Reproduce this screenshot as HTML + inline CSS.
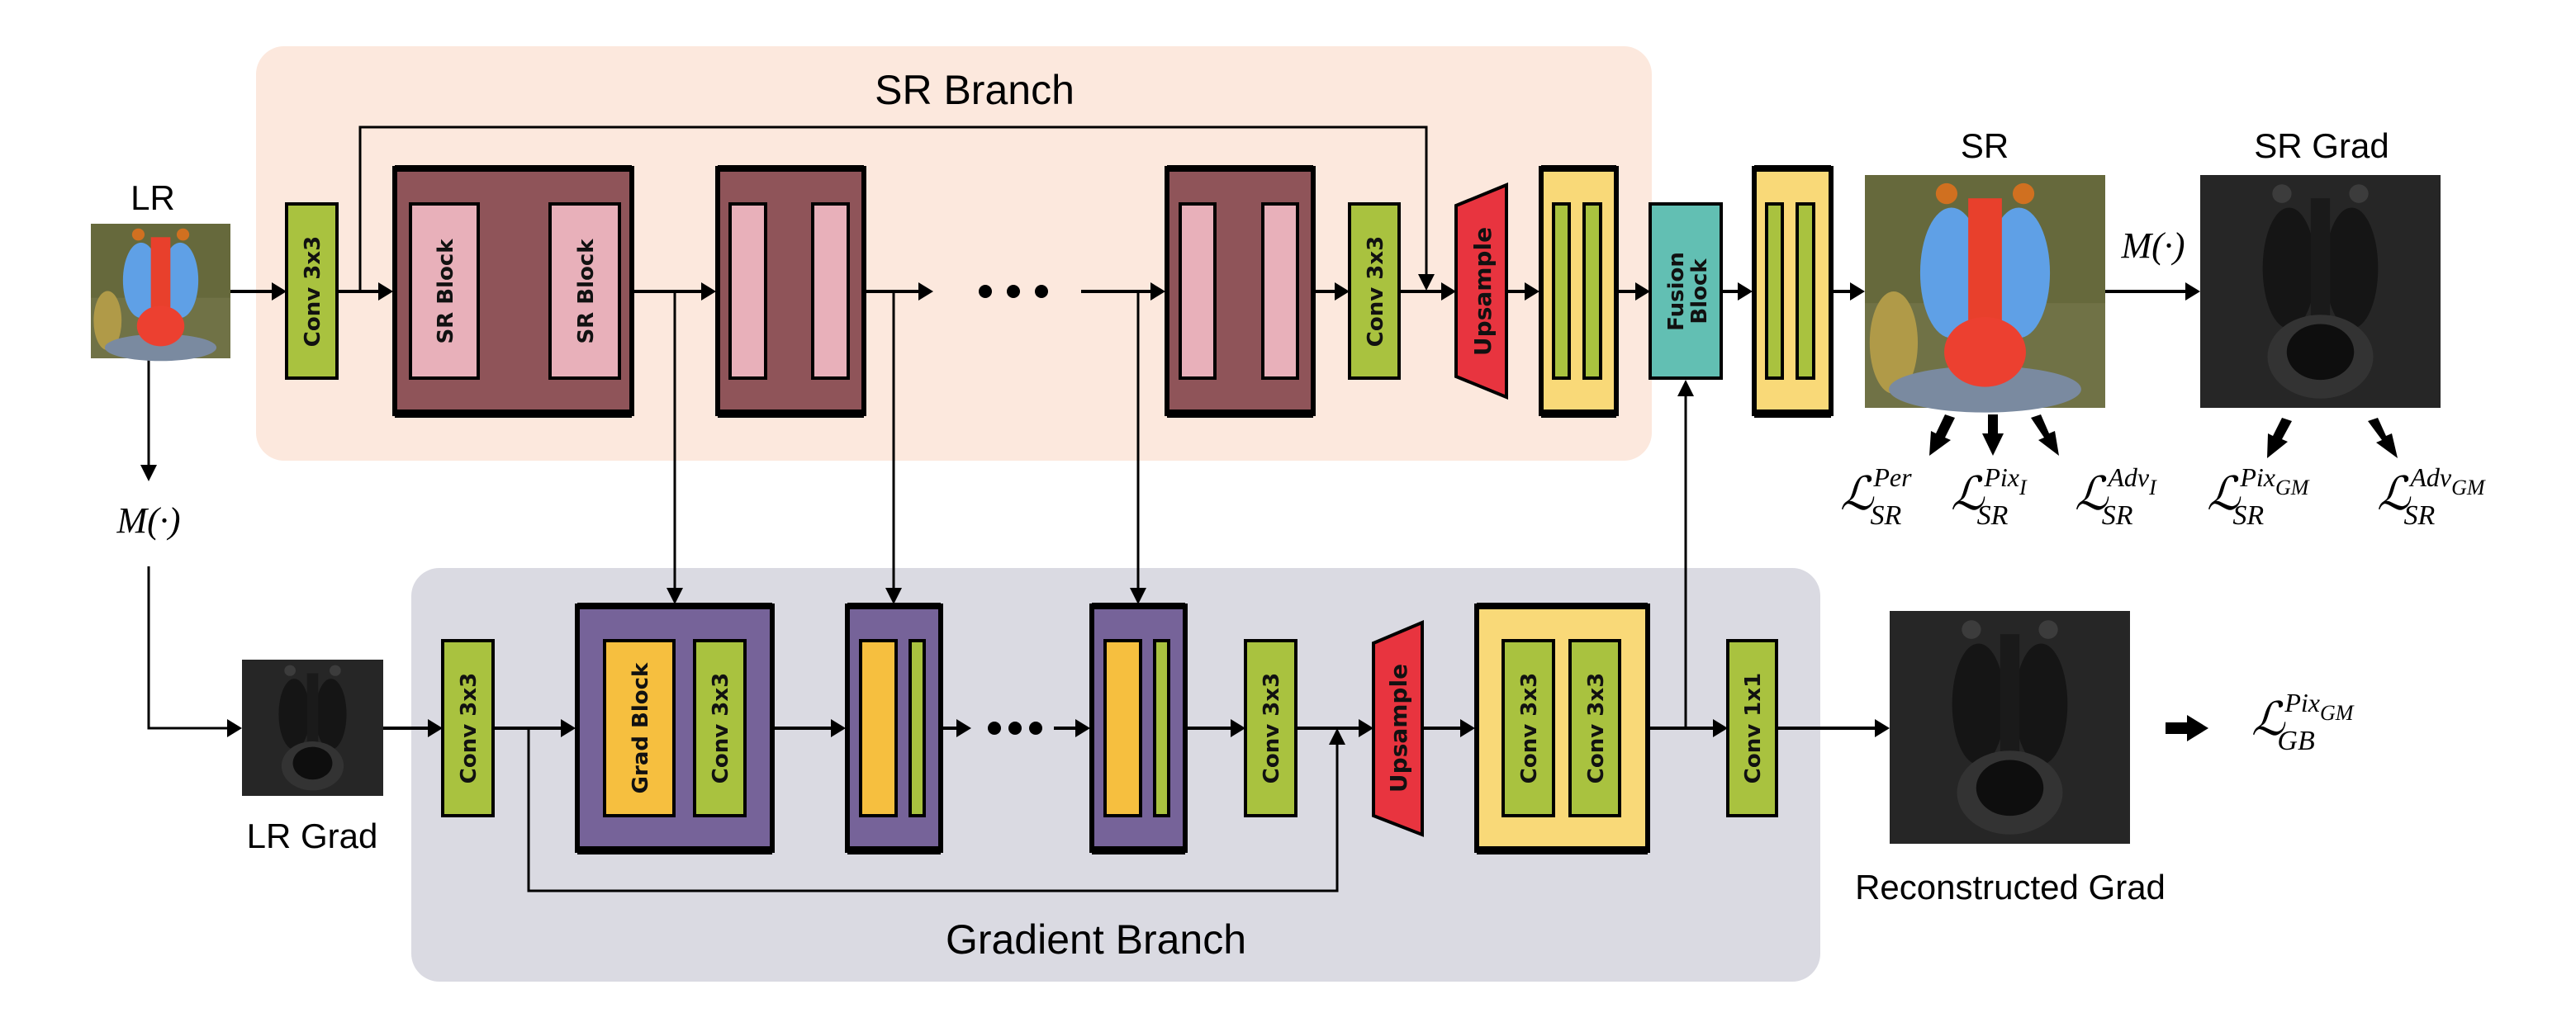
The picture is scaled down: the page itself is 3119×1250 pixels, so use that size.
<!DOCTYPE html>
<html><head><meta charset="utf-8"><style>
html,body{margin:0;padding:0;background:#fff}
svg{display:block}
.lbl{font-family:"Liberation Sans Narrow","Liberation Sans",sans-serif;fill:#000}
.blk{font-family:"DejaVu Sans",sans-serif;font-weight:bold;font-size:26px;fill:#111}
.m{font-family:"Liberation Serif",serif;font-style:italic;fill:#000}
</style></head><body>
<svg width="3119" height="1250" viewBox="0 0 3119 1250" xmlns="http://www.w3.org/2000/svg">
<defs>
<g id="bab">
<rect x="0" y="0" width="100" height="100" fill="#66693c"/>
<rect x="0" y="55" width="100" height="45" fill="#707246"/>
<ellipse cx="12" cy="72" rx="10" ry="22" fill="#b09a48"/>
<ellipse cx="50" cy="92" rx="40" ry="10" fill="#7a8aa0"/>
<ellipse cx="36" cy="42" rx="13" ry="28" fill="#5fa0e6"/>
<ellipse cx="64" cy="42" rx="13" ry="28" fill="#5fa0e6"/>
<rect x="43" y="10" width="14" height="55" fill="#e8402c"/>
<ellipse cx="50" cy="76" rx="17" ry="15" fill="#ec4030"/>
<circle cx="34" cy="8" r="4.5" fill="#d07020"/>
<circle cx="66" cy="8" r="4.5" fill="#d07020"/>
</g>
<g id="grad">
<rect x="0" y="0" width="100" height="100" fill="#262626"/>
<ellipse cx="37" cy="40" rx="11" ry="26" fill="#151515"/>
<ellipse cx="63" cy="40" rx="11" ry="26" fill="#151515"/>
<rect x="46" y="10" width="8" height="60" fill="#1a1a1a"/>
<ellipse cx="50" cy="78" rx="22" ry="18" fill="#333"/>
<ellipse cx="50" cy="76" rx="14" ry="12" fill="#0e0e0e"/>
<circle cx="34" cy="8" r="4" fill="#3c3c3c"/>
<circle cx="66" cy="8" r="4" fill="#3c3c3c"/>
</g>
</defs>

<rect x="310" y="56" width="1690" height="502" rx="34" fill="#fce8dd"/>
<rect x="498" y="688" width="1706" height="501" rx="34" fill="#dadae2"/>
<text x="1180" y="126" class="lbl" font-size="50" text-anchor="middle">SR Branch</text>
<text x="1327" y="1155" class="lbl" font-size="50" text-anchor="middle">Gradient Branch</text>

<g stroke="#000" fill="none" stroke-width="4">
<line x1="279" y1="353" x2="332" y2="353"/>
<line x1="408" y1="353" x2="460" y2="353"/>
<line x1="767" y1="353" x2="851" y2="353"/>
<line x1="1048" y1="353" x2="1114" y2="353"/>
<line x1="1309" y1="353" x2="1395" y2="353"/>
<line x1="1592" y1="353" x2="1618" y2="353"/>
<line x1="1694" y1="353" x2="1747" y2="353"/>
<line x1="1824" y1="353" x2="1848" y2="353"/>
<line x1="1959" y1="353" x2="1982" y2="353"/>
<line x1="2084" y1="353" x2="2106" y2="353"/>
<line x1="2219" y1="353" x2="2242" y2="353"/>
<line x1="2549" y1="353" x2="2648" y2="353"/>
<line x1="464" y1="882" x2="520" y2="882"/>
<line x1="597" y1="882" x2="681" y2="882"/>
<line x1="937" y1="882" x2="1008" y2="882"/>
<line x1="1141" y1="882" x2="1160" y2="882"/>
<line x1="1276" y1="882" x2="1304" y2="882"/>
<line x1="1437" y1="882" x2="1492" y2="882"/>
<line x1="1569" y1="882" x2="1647" y2="882"/>
<line x1="1722" y1="882" x2="1770" y2="882"/>
<line x1="1997" y1="882" x2="2076" y2="882"/>
<line x1="2151" y1="882" x2="2272" y2="882"/>
</g>
<g stroke="#000" fill="none" stroke-width="3">
<polyline points="436,353 436,154 1727,154 1727,336"/>
<line x1="817" y1="353" x2="817" y2="716"/>
<line x1="1082" y1="353" x2="1082" y2="716"/>
<line x1="1378" y1="353" x2="1378" y2="716"/>
<line x1="180" y1="434" x2="180" y2="567"/>
<polyline points="180,686 180,882 277,882"/>
<polyline points="640,882 640,1079 1619,1079 1619,898"/>
<line x1="2041" y1="882" x2="2041" y2="476"/>
</g>
<g fill="#000">
<polygon points="347,353 329,342 329,364"/>
<polygon points="476,353 458,342 458,364"/>
<polygon points="867,353 849,342 849,364"/>
<polygon points="1130,353 1112,342 1112,364"/>
<polygon points="1411,353 1393,342 1393,364"/>
<polygon points="1634,353 1616,342 1616,364"/>
<polygon points="1763,353 1745,342 1745,364"/>
<polygon points="1864,353 1846,342 1846,364"/>
<polygon points="1998,353 1980,342 1980,364"/>
<polygon points="2122,353 2104,342 2104,364"/>
<polygon points="2258,353 2240,342 2240,364"/>
<polygon points="2664,353 2646,342 2646,364"/>
<polygon points="293,882 275,871 275,893"/>
<polygon points="536,882 518,871 518,893"/>
<polygon points="697,882 679,871 679,893"/>
<polygon points="1024,882 1006,871 1006,893"/>
<polygon points="1176,882 1158,871 1158,893"/>
<polygon points="1320,882 1302,871 1302,893"/>
<polygon points="1508,882 1490,871 1490,893"/>
<polygon points="1663,882 1645,871 1645,893"/>
<polygon points="1786,882 1768,871 1768,893"/>
<polygon points="2092,882 2074,871 2074,893"/>
<polygon points="2288,882 2270,871 2270,893"/>
<polygon points="1727,352 1717,332 1737,332"/>
<polygon points="817,732 807,712 827,712"/>
<polygon points="1082,732 1072,712 1092,712"/>
<polygon points="1378,732 1368,712 1388,712"/>
<polygon points="180,583 170,563 190,563"/>
<polygon points="1619,882 1609,902 1629,902"/>
<polygon points="2041,460 2031,480 2051,480"/>
<circle cx="1193" cy="353" r="8"/><circle cx="1227" cy="353" r="8"/><circle cx="1261" cy="353" r="8"/>
<circle cx="1204" cy="882" r="8"/><circle cx="1229" cy="882" r="8"/><circle cx="1254" cy="882" r="8"/>
<circle cx="600" cy="353" r="7"/><circle cx="621" cy="353" r="7"/><circle cx="642" cy="353" r="7"/>
<circle cx="946" cy="356" r="3.5"/><circle cx="955" cy="356" r="3.5"/><circle cx="964" cy="356" r="3.5"/>
<circle cx="1491" cy="356" r="3.5"/><circle cx="1500" cy="356" r="3.5"/><circle cx="1509" cy="356" r="3.5"/>
<polygon points="2355,502 2367,506 2355,530 2362,533 2336,552 2338,522 2344,525"/>
<polygon points="2407,502 2419,502 2419,525 2426,525 2413,552 2400,525 2407,525"/>
<polygon points="2459,506 2471,502 2481,525 2488,522 2493,552 2468,533 2475,530"/>
<polygon points="2763,506 2775,510 2763,532 2770,535 2745,555 2746,525 2752,528"/>
<polygon points="2867,510 2879,506 2889,528 2896,525 2903,555 2877,536 2884,533"/>
<polygon points="2622,875 2648,875 2648,866 2674,882 2648,898 2648,889 2622,889"/>
</g>

<g stroke="#000" stroke-width="4">
<rect x="347" y="247" width="61" height="211" fill="#a9c23f"/>
<rect x="478" y="204" width="287" height="297" fill="#8f5459" stroke-width="6"/>
<rect x="497" y="247" width="82" height="211" fill="#e8b0ba"/>
<rect x="666" y="247" width="84" height="211" fill="#e8b0ba"/>
<rect x="869" y="204" width="177" height="297" fill="#8f5459" stroke-width="6"/>
<rect x="884" y="247" width="43" height="211" fill="#e8b0ba"/>
<rect x="984" y="247" width="43" height="211" fill="#e8b0ba"/>
<rect x="1413" y="204" width="177" height="297" fill="#8f5459" stroke-width="6"/>
<rect x="1429" y="247" width="42" height="211" fill="#e8b0ba"/>
<rect x="1529" y="247" width="42" height="211" fill="#e8b0ba"/>
<rect x="1634" y="247" width="60" height="211" fill="#a9c23f"/>
<polygon points="1763,249 1824,224 1824,481 1763,456" fill="#e8343f"/>
<rect x="1866" y="204" width="91" height="297" fill="#f9d978" stroke-width="6"/>
<rect x="1881" y="247" width="19" height="211" fill="#a9c23f"/>
<rect x="1918" y="247" width="20" height="211" fill="#a9c23f"/>
<rect x="1998" y="247" width="86" height="211" fill="#62bfb3"/>
<rect x="2124" y="204" width="93" height="297" fill="#f9d978" stroke-width="6"/>
<rect x="2139" y="247" width="19" height="211" fill="#a9c23f"/>
<rect x="2176" y="247" width="20" height="211" fill="#a9c23f"/>
</g>
<g fill="#000">
<rect x="478" y="200" width="287" height="8"/><rect x="478" y="496" width="287" height="10"/>
<rect x="869" y="200" width="177" height="8"/><rect x="869" y="496" width="177" height="10"/>
<rect x="1413" y="200" width="177" height="8"/><rect x="1413" y="496" width="177" height="10"/>
<rect x="1866" y="200" width="91" height="8"/><rect x="1866" y="496" width="91" height="10"/>
<rect x="2124" y="200" width="93" height="8"/><rect x="2124" y="496" width="93" height="10"/>
</g>

<g stroke="#000" stroke-width="4">
<rect x="536" y="776" width="61" height="212" fill="#a9c23f"/>
<rect x="699" y="734" width="236" height="296" fill="#766399" stroke-width="6"/>
<rect x="732" y="776" width="84" height="212" fill="#f6bf3f"/>
<rect x="841" y="776" width="61" height="212" fill="#a9c23f"/>
<rect x="1026" y="734" width="113" height="296" fill="#766399" stroke-width="6"/>
<rect x="1042" y="776" width="43" height="212" fill="#f6bf3f"/>
<rect x="1102" y="776" width="17" height="212" fill="#a9c23f"/>
<rect x="1322" y="734" width="113" height="296" fill="#766399" stroke-width="6"/>
<rect x="1338" y="776" width="43" height="212" fill="#f6bf3f"/>
<rect x="1398" y="776" width="17" height="212" fill="#a9c23f"/>
<rect x="1508" y="776" width="61" height="212" fill="#a9c23f"/>
<polygon points="1663,779 1722,754 1722,1011 1663,988" fill="#e8343f"/>
<rect x="1788" y="734" width="207" height="296" fill="#f9d978" stroke-width="6"/>
<rect x="1820" y="776" width="61" height="212" fill="#a9c23f"/>
<rect x="1901" y="776" width="60" height="212" fill="#a9c23f"/>
<rect x="2092" y="776" width="59" height="212" fill="#a9c23f"/>
</g>
<g fill="#000">
<rect x="699" y="730" width="236" height="8"/><rect x="699" y="1025" width="236" height="10"/>
<rect x="1026" y="730" width="113" height="8"/><rect x="1026" y="1025" width="113" height="10"/>
<rect x="1322" y="730" width="113" height="8"/><rect x="1322" y="1025" width="113" height="10"/>
<rect x="1788" y="730" width="207" height="8"/><rect x="1788" y="1025" width="207" height="10"/>
</g>

<g class="blk" text-anchor="middle">
<text transform="translate(387,353) rotate(-90)">Conv 3x3</text>
<text transform="translate(548,353) rotate(-90)">SR Block</text>
<text transform="translate(718,353) rotate(-90)">SR Block</text>
<text transform="translate(1674,353) rotate(-90)">Conv 3x3</text>
<text transform="translate(1805,353) rotate(-90)" font-size="28">Upsample</text>
<text transform="translate(2038,353) rotate(-90)">Fusion</text>
<text transform="translate(2066,353) rotate(-90)">Block</text>
<text transform="translate(576,882) rotate(-90)">Conv 3x3</text>
<text transform="translate(784,882) rotate(-90)">Grad Block</text>
<text transform="translate(881,882) rotate(-90)">Conv 3x3</text>
<text transform="translate(1548,882) rotate(-90)">Conv 3x3</text>
<text transform="translate(1703,882) rotate(-90)" font-size="28">Upsample</text>
<text transform="translate(1860,882) rotate(-90)">Conv 3x3</text>
<text transform="translate(1941,882) rotate(-90)">Conv 3x3</text>
<text transform="translate(2131,882) rotate(-90)">Conv 1x1</text>
</g>

<use href="#bab" transform="translate(110,271) scale(1.69,1.63)"/>
<use href="#grad" transform="translate(293,799) scale(1.71,1.65)"/>
<use href="#bab" transform="translate(2258,212) scale(2.91,2.82)"/>
<use href="#grad" transform="translate(2664,212) scale(2.91,2.82)"/>
<use href="#grad" transform="translate(2288,740) scale(2.91,2.82)"/>

<g class="lbl" text-anchor="middle" font-size="42">
<text x="185" y="254">LR</text>
<text x="378" y="1027">LR Grad</text>
<text x="2403" y="191">SR</text>
<text x="2811" y="191">SR Grad</text>
<text x="2434" y="1089">Reconstructed  Grad</text>
</g>
<g class="m">
<text x="180" y="645" font-size="44" text-anchor="middle">M(·)</text>
<text x="2607" y="312" font-size="44" text-anchor="middle">M(·)</text>
<text x="2228" y="617" font-size="56">ℒ<tspan font-size="32" dy="-28">Per</tspan><tspan font-size="34" dx="-50" dy="46">SR</tspan></text>
<text x="2362" y="617" font-size="56">ℒ<tspan font-size="32" dy="-28">Pix</tspan><tspan font-size="26" dy="10">I</tspan><tspan font-size="34" dx="-60" dy="36">SR</tspan></text>
<text x="2512" y="617" font-size="56">ℒ<tspan font-size="32" dy="-28">Adv</tspan><tspan font-size="26" dy="10">I</tspan><tspan font-size="34" dx="-66" dy="36">SR</tspan></text>
<text x="2672" y="617" font-size="56">ℒ<tspan font-size="32" dy="-28">Pix</tspan><tspan font-size="26" dy="10">GM</tspan><tspan font-size="34" dx="-92" dy="36">SR</tspan></text>
<text x="2878" y="617" font-size="56">ℒ<tspan font-size="32" dy="-28">Adv</tspan><tspan font-size="26" dy="10">GM</tspan><tspan font-size="34" dx="-98" dy="36">SR</tspan></text>
<text x="2726" y="890" font-size="56">ℒ<tspan font-size="32" dy="-28">Pix</tspan><tspan font-size="26" dy="10">GM</tspan><tspan font-size="34" dx="-92" dy="36">GB</tspan></text>
</g>
</svg>
</body></html>
